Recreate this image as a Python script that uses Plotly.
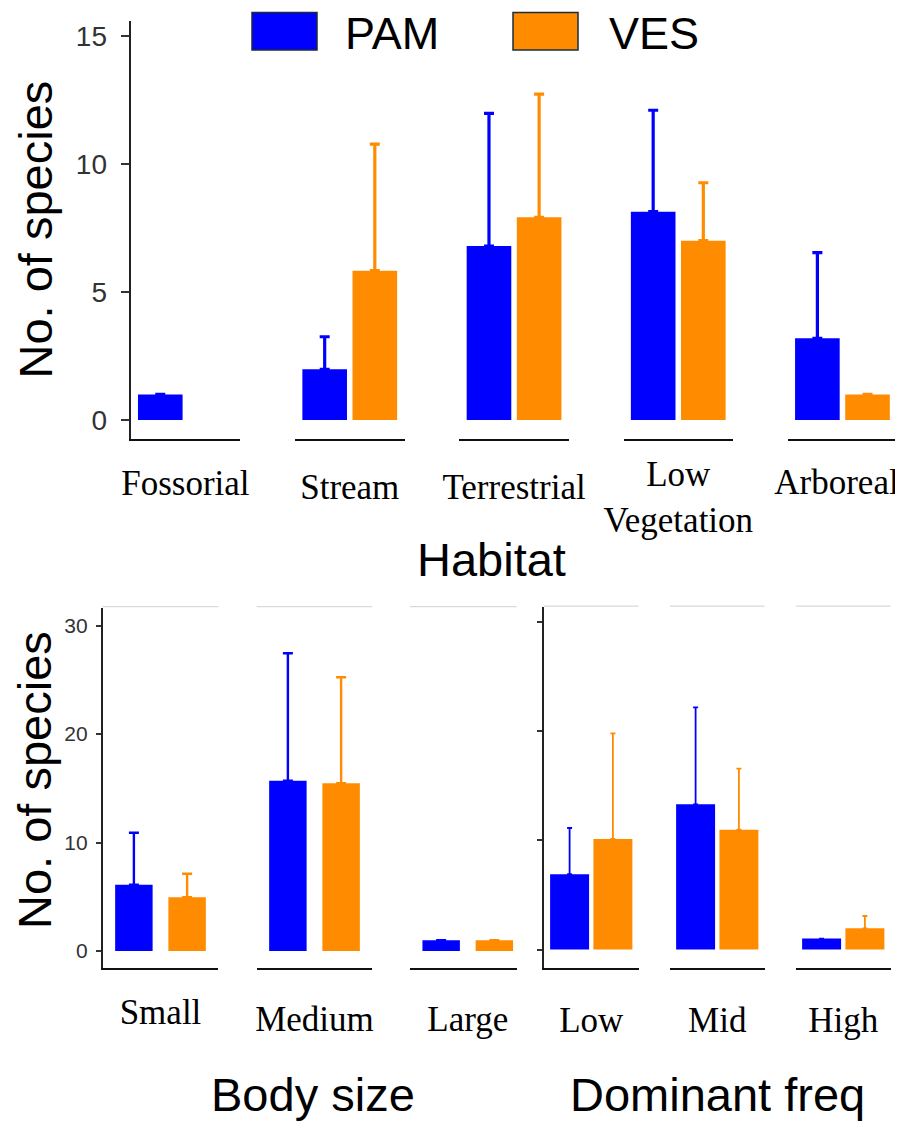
import plotly.graph_objects as go

# The page body adds an 8px margin, so the figure is 8px smaller than the window
# and reference pixel positions are shifted by that offset.
PAGE_OFF = 8
W, H = 903 - PAGE_OFF, 1122 - PAGE_OFF

# ---------------- data ----------------
groups = ["PAM", "VES"]
group_colors = ["#0000FF", "#FF8C00"]

habitat = ["Fossorial", "Stream", "Terrestrial", "Low<br>Vegetation", "Arboreal"]
hab_pam = [1.0, 1.98, 6.79, 8.13, 3.19]
hab_pam_se = [0.0, 1.27, 5.18, 3.96, 3.34]
hab_ves = [None, 5.83, 7.91, 7.0, 1.0]
hab_ves_se = [None, 4.94, 4.81, 2.26, 0.0]

body = ["Small", "Medium", "Large"]
body_pam = [6.11, 15.7, 1.0]
body_pam_se = [4.79, 11.74, 0.0]
body_ves = [4.95, 15.46, 1.0]
body_ves_se = [2.17, 9.77, 0.0]

freq = ["Low", "Mid", "High"]
freq_pam = [6.9, 13.31, 1.0]
freq_pam_se = [4.24, 8.89, 0.0]
freq_ves = [10.13, 10.98, 1.94]
freq_ves_se = [9.69, 5.6, 1.13]

hab_ticks = [0, 5, 10, 15]
count_ticks = [0, 10, 20, 30]


def fx(p):
    return (p - PAGE_OFF) / W


def fy(p):
    return 1 - (p - PAGE_OFF) / H


panels = [
    dict(cats=habitat, means=[hab_pam, hab_ves], ses=[hab_pam_se, hab_ves_se],
         x0=[130.6, 295, 459.3, 623.5, 787.7], w=[109.5] * 5,
         xr=[(-0.546, 0.546)] * 5, ydom=(20.7, 439), yr=(-0.74, 15.585),
         barw=0.445, eth=3.2, ew=5, standoff=[12, 16, 16, 3, 11], shift=[0, 0, 0, 0, -6],
         yticks=hab_ticks, ylabels=True, yfont=dict(family="Liberation Sans", size=28, color="#333333"),
         ticklen=8, ystand=8, strip=False, xlw=2, ylw=2),
    dict(cats=body, means=[body_pam, body_ves], ses=[body_pam_se, body_ves_se],
         x0=[102.7, 256.7, 410], w=[115.6, 115.6, 106.7],
         xr=[(-0.543, 0.543), (-0.543, 0.543), (-0.543, 0.46)], ydom=(607.5, 968), yr=(-1.567, 31.66),
         barw=0.352, eth=2.4, ew=5, standoff=[12, 19, 19], shift=[0, 0, 0],
         yticks=count_ticks, ylabels=True,
         yfont=dict(family="Liberation Sans Narrow, Liberation Sans", size=21, color="#333333"),
         ticklen=5, ystand=4, strip=True, xlw=2, ylw=1.6),
    dict(cats=freq, means=[freq_pam, freq_ves], ses=[freq_pam_se, freq_ves_se],
         x0=[544, 670, 796], w=[94.5] * 3,
         xr=[(-0.5456, 0.5456)] * 3, ydom=(607, 967.5), yr=(-1.65, 31.40),
         barw=0.45, eth=1.8, ew=2.5, standoff=[20, 20, 20], shift=[0, 0, 0],
         yticks=count_ticks, ylabels=False,
         yfont=dict(family="Liberation Sans", size=20, color="#333333"),
         ticklen=5, ystand=4, strip=True, xlw=2, ylw=1.6),
]

fig = go.Figure()
layout = dict(
    width=W, height=H, autosize=False,
    margin=dict(l=0, r=0, t=0, b=0, autoexpand=False),
    paper_bgcolor="white", plot_bgcolor="white",
    barmode="overlay", showlegend=False,
)
shapes = []
annotations = []

xi = 0
for pi, p in enumerate(panels):
    yname = "y" if pi == 0 else f"y{pi + 1}"
    ykey = "yaxis" if pi == 0 else f"yaxis{pi + 1}"
    first_x = None
    for ci, cat in enumerate(p["cats"]):
        xi += 1
        xname = "x" if xi == 1 else f"x{xi}"
        xkey = "xaxis" if xi == 1 else f"xaxis{xi}"
        if first_x is None:
            first_x = xname
        for gi, g in enumerate(groups):
            val = p["means"][gi][ci]
            se = p["ses"][gi][ci]
            center = -0.25 if gi == 0 else 0.25
            fig.add_trace(go.Bar(
                x=[cat], y=[val], name=g,
                xaxis=xname, yaxis=yname,
                width=p["barw"], offset=center - p["barw"] / 2,
                marker=dict(color=group_colors[gi], line=dict(width=0)),
                error_y=dict(type="data", symmetric=False,
                             array=[se], arrayminus=[0 if se is not None else None],
                             color=group_colors[gi], thickness=p["eth"], width=p["ew"]),
                showlegend=False,
            ))
        layout[xkey] = dict(
            domain=[fx(p["x0"][ci]), fx(p["x0"][ci] + p["w"][ci])],
            anchor=yname, type="category", range=list(p["xr"][ci]),
            showline=True, linecolor="#111111", linewidth=p["xlw"],
            ticks="", showgrid=False, zeroline=False, automargin=False,
            tickfont=dict(family="Liberation Serif", size=35, color="black"),
            ticklabelstandoff=p["standoff"][ci],
            ticklabelshift=p["shift"][ci],
            fixedrange=True,
        )
        if p["strip"]:
            shapes.append(dict(type="line", xref=f"{xname} domain", yref="paper",
                               x0=0, x1=1, y0=fy(p["ydom"][0] - 0.8), y1=fy(p["ydom"][0] - 0.8),
                               line=dict(color="#d9d9d9", width=1.2)))
    layout[ykey] = dict(
        domain=[fy(p["ydom"][1]), fy(p["ydom"][0])],
        anchor=first_x, range=list(p["yr"]),
        tickvals=p["yticks"], showticklabels=p["ylabels"],
        ticks="outside", ticklen=p["ticklen"], tickwidth=2, tickcolor="#333333",
        tickfont=p["yfont"], ticklabelstandoff=p["ystand"],
        showline=True, linecolor="#222222", linewidth=p["ylw"],
        showgrid=False, zeroline=False, fixedrange=True, automargin=False,
    )

title_font = dict(family="Liberation Sans", size=47, color="black")

# axis titles
annotations += [
    dict(text="No. of species", x=fx(34.5), y=fy(230), xref="paper", yref="paper",
         textangle=-90, xanchor="center", yanchor="middle", showarrow=False, font=title_font),
    dict(text="No. of species", x=fx(34), y=fy(780), xref="paper", yref="paper",
         textangle=-90, xanchor="center", yanchor="middle", showarrow=False, font=title_font),
    dict(text="Habitat", x=fx(491.5), y=fy(560), xref="paper", yref="paper",
         xanchor="center", yanchor="middle", showarrow=False, font=title_font),
    dict(text="Body size", x=fx(312.5), y=fy(1094), xref="paper", yref="paper",
         xanchor="center", yanchor="middle", showarrow=False, font=title_font),
    dict(text="Dominant freq", x=fx(717), y=fy(1094), xref="paper", yref="paper",
         xanchor="center", yanchor="middle", showarrow=False, font=title_font),
]

# legend (keys + labels)
legend_keys = [(252, 317, 343), (513, 578, 607)]
for gi, g in enumerate(groups):
    kx0, kx1, tx = legend_keys[gi]
    shapes.append(dict(type="rect", xref="paper", yref="paper",
                       x0=fx(kx0), x1=fx(kx1), y0=fy(50), y1=fy(12.5),
                       fillcolor=group_colors[gi], line=dict(color="#1b2c3a", width=1.5)))
    annotations.append(dict(text=g, x=fx(tx), y=fy(33), xref="paper", yref="paper",
                            xanchor="left", yanchor="middle", showarrow=False,
                            font=dict(family="Liberation Sans", size=45, color="black")))

layout["shapes"] = shapes
layout["annotations"] = annotations
fig.update_layout(**layout)

fig.write_html("out.html")
